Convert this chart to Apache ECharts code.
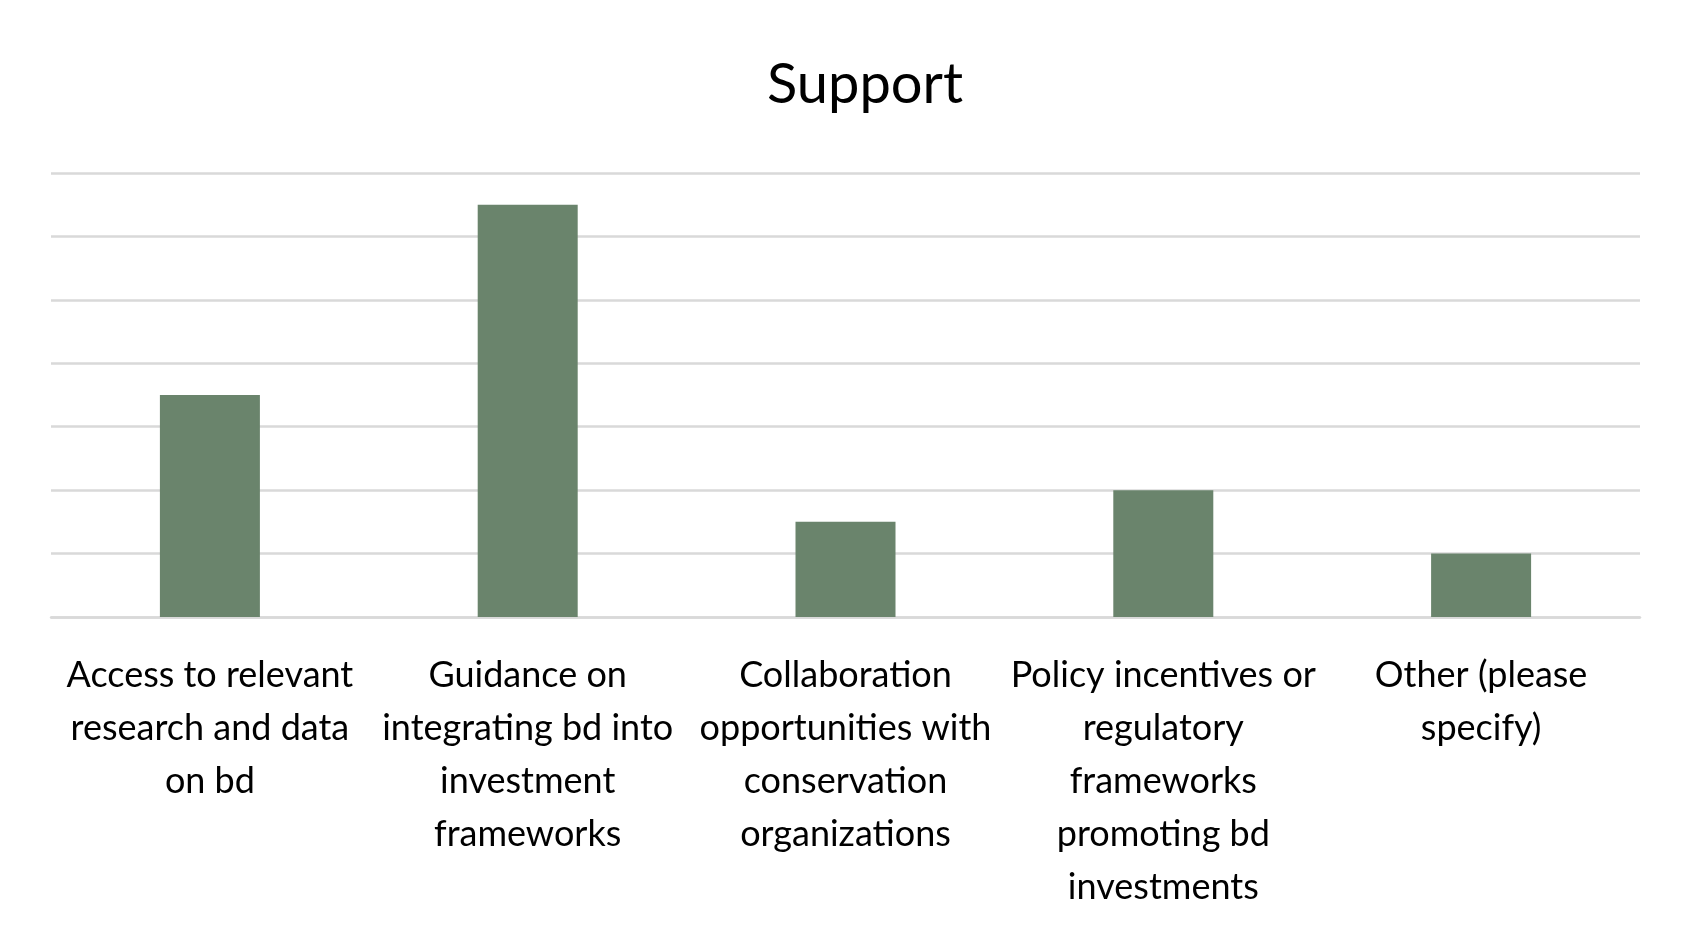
<!DOCTYPE html>
<html>
<head>
<meta charset="utf-8">
<script src="https://cdn.jsdelivr.net/npm/echarts@6/dist/echarts.min.js"></script>
<style>
  html, body { margin: 0; padding: 0; background: #fff; }
  #main { width: 1691px; height: 939px; }
</style>
</head>
<body>
<div id="main"></div>
<script>
  // categories, wrapped the same way as the original
  var categories = [
    'Access to relevant\nresearch and data\non bd',
    'Guidance on\nintegrating bd into\ninvestment\nframeworks',
    'Collaboration\nopportunities with\nconservation\norganizations',
    'Policy incentives or\nregulatory\nframeworks\npromoting bd\ninvestments',
    'Other (please\nspecify)'
  ];
  // responses per option
  var counts = [7, 13, 3, 4, 2];

  var yMax = 14;
  var yStep = 2;

  var myChart = echarts.init(document.getElementById('main'));

  var option = {
    backgroundColor: '#ffffff',
    title: {
      text: 'Support',
      left: 762,
      top: 52,
      textStyle: {
        fontFamily: 'Lato',
        fontWeight: 'normal',
        fontSize: 56,
        color: '#000000'
      }
    },
    grid: {
      left: 51,
      right: 51,
      top: 173,
      bottom: 322,
      containLabel: false
    },
    xAxis: {
      type: 'category',
      data: categories,
      axisTick: { show: false },
      axisLine: { lineStyle: { color: '#d9d9d9', width: 2.5 } },
      axisLabel: {
        interval: 0,
        margin: 32,
        fontFamily: 'Lato',
        fontSize: 36,
        lineHeight: 53,
        color: '#000000',
        align: 'center'
      }
    },
    yAxis: {
      type: 'value',
      min: 0,
      max: yMax,
      interval: yStep,
      axisLabel: { show: false },
      axisLine: { show: false },
      axisTick: { show: false },
      splitLine: { lineStyle: { color: '#d9d9d9', width: 2.5 } }
    },
    series: [{
      type: 'bar',
      data: counts,
      barWidth: 100,
      itemStyle: { color: '#6a846c' },
      silent: true
    }]
  };

  myChart.setOption(option);
</script>
</body>
</html>
